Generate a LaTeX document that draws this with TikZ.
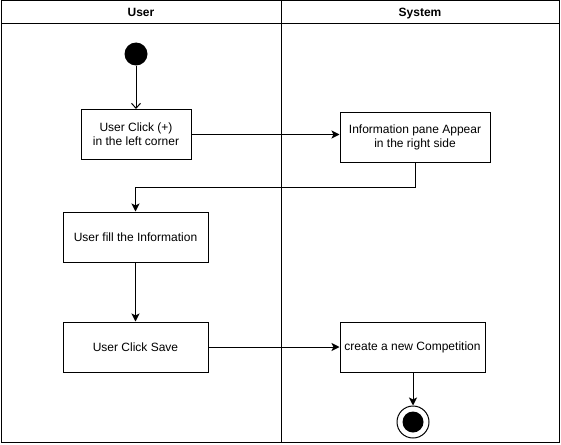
\documentclass[tikz,border=0pt]{standalone}
\usepackage{fontspec}
\setmainfont{Liberation Sans}
\usetikzlibrary{arrows.meta}
\begin{document}
\begin{tikzpicture}[x=1pt,y=-1pt,
  every node/.style={font=\fontsize{12}{14}\selectfont},
  act/.style={draw,line width=1pt,minimum height=50pt,inner sep=0pt,align=center},
  flow/.style={line width=1pt,-{Stealth[length=8pt,width=8pt,inset=2pt]}},
  startflow/.style={line width=1pt,-{Straight Barb[length=5pt,width=9pt]}},
  lane/.style={draw,line width=1pt},
  head/.style={font=\fontsize{12}{14}\selectfont\bfseries,anchor=base,inner sep=0pt}]
\useasboundingbox (0,0) rectangle (561,444);
% swimlanes
\draw[lane] (1,1) rectangle (559,442);
\draw[lane] (281,1) -- (281,442);
\draw[lane] (1,24) -- (559,24);
\node[head] (hu) at (141,16.5) {User};
\node[head] (hs) at (420,16.5) {System};
% nodes
\node[circle,fill=black,minimum size=23pt,inner sep=0pt] (start) at (136,54) {};
\node[act,minimum width=110pt] (a1) at (136,134.5) {User Click (+)\\in the left corner};
\node[act,minimum width=150pt] (a2) at (415,137) {Information pane Appear\\in the right side};
\node[act,minimum width=145pt] (a3) at (135.5,237) {User fill the Information};
\node[act,minimum width=145pt] (a4) at (135.5,347) {User Click Save};
\node[act,minimum width=145pt] (a5) at (412.5,347) {create a new Competition};
\node[circle,draw,line width=1pt,fill=white,minimum size=32pt,inner sep=0pt] (end) at (413,422) {};
\node[circle,fill=black,minimum size=21pt,inner sep=0pt] (endin) at (end) {};
% connectors
\draw[startflow] (start) -- (a1);
\draw[flow] (a1.east) -- (a1.east -| a2.west);
\draw[flow] (a2.south) -- ++(0,25) -| (a3.north);
\draw[flow] (a3) -- (a4);
\draw[flow] (a4) -- (a5);
\draw[flow] (a5.south -| end.north) -- (end);
\end{tikzpicture}
\end{document}
